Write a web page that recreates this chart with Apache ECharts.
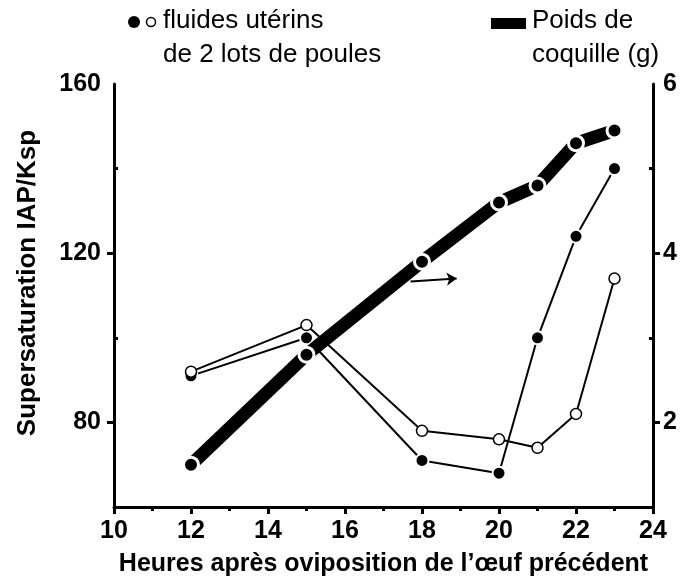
<!DOCTYPE html>
<html>
<head>
<meta charset="utf-8">
<script src="https://cdn.jsdelivr.net/npm/echarts@6/dist/echarts.min.js"></script>
<style>
  html, body { margin: 0; padding: 0; background: #fff; }
  #chart { width: 689px; height: 582px; }
</style>
</head>
<body>
<div id="chart"></div>
<script>
// heures après oviposition
const hours = [12, 15, 18, 20, 21, 22, 23];
// fluides utérins, lot 1 (points pleins) et lot 2 (points vides) - axe gauche
const fluidFilled = [91, 100, 71, 68, 100, 124, 140];
const fluidOpen = [92, 103, 78, 76, 74, 82, 114];
// poids de coquille (g) - axe droit
const shellWeight = [1.5, 2.8, 3.9, 4.6, 4.8, 5.3, 5.45];
// flèche vers l'axe droit (coordonnées de données, axe gauche)
const arrowFrom = [17.7, 113.3];
const arrowTo = [18.9, 114.0];

const leftLabels = [80, 120, 160];
const leftMajorTicks = [80, 120];
const leftMinorTicks = [100, 140];
const rightLabels = [2, 4, 6];
const rightMajorTicks = [2, 4];
const rightMinorTicks = [3, 5];

const font = "'Liberation Sans', Arial, sans-serif";
const black = '#000';

const pair = (xs, ys) => xs.map((x, i) => [x, ys[i]]);

const chart = echarts.init(document.getElementById('chart'));

const axisLine = { show: true, lineStyle: { color: black, width: 3 } };
const labelStyle = { color: black, fontFamily: font, fontWeight: 'bold', fontSize: 25 };

const option = {
  backgroundColor: '#fff',
  animation: false,
  grid: { left: 114, right: 36, top: 84, bottom: 75 },
  xAxis: {
    type: 'value',
    min: 10,
    max: 24,
    interval: 2,
    axisLine: axisLine,
    axisTick: { show: true, length: 7, lineStyle: { color: black, width: 3 } },
    minorTick: { show: true, splitNumber: 2, length: 4, lineStyle: { color: black, width: 3 } },
    axisLabel: Object.assign({ margin: 12 }, labelStyle),
    splitLine: { show: false },
    name: 'Heures après oviposition de l’œuf précédent',
    nameLocation: 'middle',
    nameGap: 45,
    nameTextStyle: labelStyle
  },
  yAxis: [
    {
      type: 'value',
      position: 'left',
      min: 60,
      max: 160,
      interval: 20,
      axisLine: axisLine,
      axisTick: { show: true, customValues: leftMajorTicks, length: 7, lineStyle: { color: black, width: 3 } },
      axisLabel: Object.assign({ customValues: leftLabels, margin: 13 }, labelStyle),
      splitLine: { show: false }
    },
    {
      type: 'value',
      position: 'left',
      min: 60,
      max: 160,
      interval: 20,
      axisLine: { show: false },
      axisTick: { show: true, inside: true, customValues: leftMinorTicks, length: 4, lineStyle: { color: black, width: 3 } },
      axisLabel: { show: false },
      splitLine: { show: false }
    },
    {
      type: 'value',
      position: 'right',
      min: 1,
      max: 6,
      interval: 1,
      axisLine: axisLine,
      axisTick: { show: true, customValues: rightMajorTicks, length: 7, lineStyle: { color: black, width: 3 } },
      axisLabel: Object.assign({ customValues: rightLabels, margin: 10 }, labelStyle),
      splitLine: { show: false }
    },
    {
      type: 'value',
      position: 'right',
      min: 1,
      max: 6,
      interval: 1,
      axisLine: { show: false },
      axisTick: { show: true, inside: true, customValues: rightMinorTicks, length: 4, lineStyle: { color: black, width: 3 } },
      axisLabel: { show: false },
      splitLine: { show: false }
    }
  ],
  series: [
    {
      name: 'lot 1',
      type: 'line',
      yAxisIndex: 0,
      data: pair(hours, fluidFilled),
      symbol: 'circle',
      symbolSize: 13,
      itemStyle: { color: black, borderColor: '#fff', borderWidth: 2 },
      lineStyle: { color: black, width: 2 },
      z: 2
    },
    {
      name: 'lot 2',
      type: 'line',
      yAxisIndex: 0,
      data: pair(hours, fluidOpen),
      symbol: 'circle',
      symbolSize: 11,
      itemStyle: { color: '#fff', borderColor: black, borderWidth: 1.5 },
      lineStyle: { color: black, width: 2 },
      z: 3,
      markLine: {
        silent: true,
        symbol: ['none', 'arrow'],
        symbolSize: 10,
        label: { show: false },
        emphasis: { disabled: true },
        lineStyle: { color: black, width: 2, type: 'solid' },
        itemStyle: { color: black },
        data: [[{ coord: arrowFrom }, { coord: arrowTo }]]
      }
    },
    {
      name: 'Poids de coquille (g)',
      type: 'line',
      yAxisIndex: 2,
      data: pair(hours, shellWeight),
      symbol: 'circle',
      symbolSize: 15,
      itemStyle: { color: black, borderColor: '#fff', borderWidth: 3 },
      lineStyle: { color: black, width: 13, cap: 'butt' },
      z: 4
    }
  ],
  graphic: [
    {
      type: 'text', x: 28, y: 283, rotation: Math.PI / 2,
      style: { text: 'Supersaturation IAP/Ksp', font: 'bold 26px ' + font, fill: black, align: 'center', verticalAlign: 'middle' }
    },
    { type: 'circle', shape: { cx: 134, cy: 22, r: 6 }, style: { fill: black } },
    { type: 'circle', shape: { cx: 151, cy: 22, r: 4.5 }, style: { fill: '#fff', stroke: black, lineWidth: 1.5 } },
    { type: 'text', x: 163, y: 21, style: { text: 'fluides utérins', font: '26px ' + font, fill: black, verticalAlign: 'middle' } },
    { type: 'text', x: 163, y: 55, style: { text: 'de 2 lots de poules', font: '26px ' + font, fill: black, verticalAlign: 'middle' } },
    { type: 'rect', shape: { x: 491, y: 18, width: 35, height: 11 }, style: { fill: black } },
    { type: 'text', x: 532, y: 21, style: { text: 'Poids de', font: '26px ' + font, fill: black, verticalAlign: 'middle' } },
    { type: 'text', x: 532, y: 55, style: { text: 'coquille (g)', font: '26px ' + font, fill: black, verticalAlign: 'middle' } }
  ]
};

chart.setOption(option);
</script>
</body>
</html>
